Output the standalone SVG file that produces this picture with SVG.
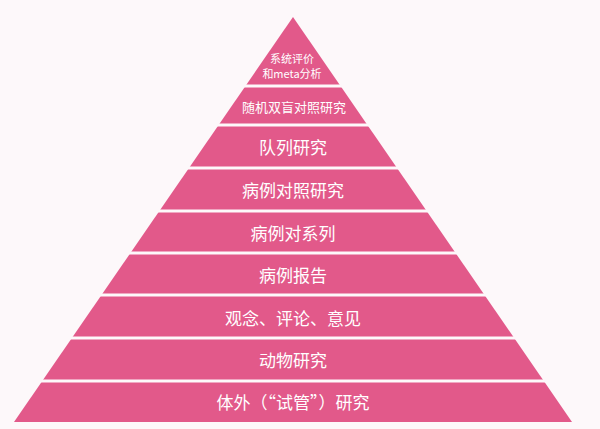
<svg xmlns="http://www.w3.org/2000/svg" width="600" height="429" viewBox="0 0 600 429">
<style>
.t{font-family:"Noto Sans CJK SC",sans-serif;fill:#fff;text-anchor:middle;dominant-baseline:central}
.g{stroke:#fdf8fa;stroke-width:3}
</style>
<rect width="600" height="429" fill="#fdf8fa"/>
<g id="pyramid"><polygon points="293,17 572,422 14,422" fill="#e2598a"/></g>
<g id="connectors">
<line class="g" x1="0" y1="86" x2="600" y2="86"/>
<line class="g" x1="0" y1="125" x2="600" y2="125"/>
<line class="g" x1="0" y1="168" x2="600" y2="168"/>
<line class="g" x1="0" y1="211" x2="600" y2="211"/>
<line class="g" x1="0" y1="253" x2="600" y2="253"/>
<line class="g" x1="0" y1="295" x2="600" y2="295"/>
<line class="g" x1="0" y1="338" x2="600" y2="338"/>
<line class="g" x1="0" y1="381" x2="600" y2="381"/>
</g>
<g id="n1"><text class="t" x="292" y="58" font-size="11">系统评价</text><text class="t" x="292" y="73" font-size="11">和meta分析</text></g>
<g id="n2"><text class="t" x="294" y="106" font-size="13">随机双盲对照研究</text></g>
<g id="n3"><text class="t" x="293" y="146" font-size="17">队列研究</text></g>
<g id="n4"><text class="t" x="293" y="189" font-size="17">病例对照研究</text></g>
<g id="n5"><text class="t" x="293" y="232" font-size="17">病例对系列</text></g>
<g id="n6"><text class="t" x="293" y="274" font-size="17">病例报告</text></g>
<g id="n7"><text class="t" x="293" y="317" font-size="17">观念、评论、意见</text></g>
<g id="n8"><text class="t" x="293" y="359" font-size="17">动物研究</text></g>
<g id="n9"><text class="t" x="293" y="401" font-size="17">体外（“试管”）研究</text></g>
</svg>
